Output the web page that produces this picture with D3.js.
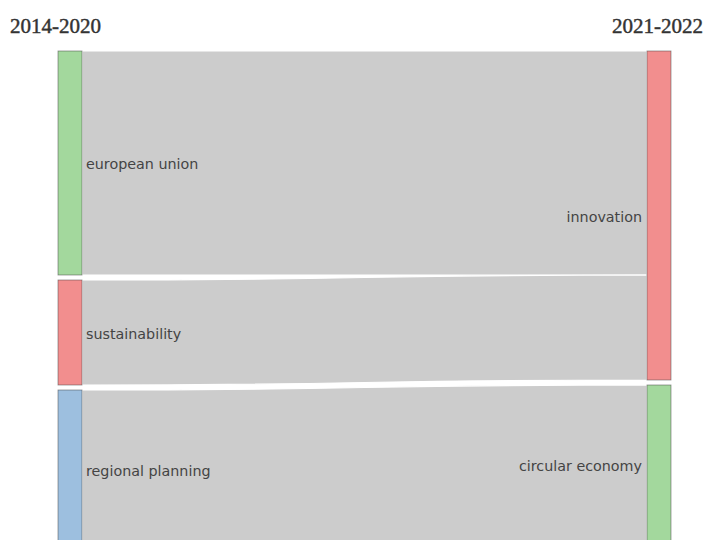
<!DOCTYPE html>
<html>
<head>
<meta charset="utf-8">
<script src="https://cdn.jsdelivr.net/npm/d3@7"></script>
<style>
  body { margin: 0; background: #fff; }
</style>
</head>
<body>
<svg width="706" height="540"></svg>
<script>
// columns (periods) and nodes
let periods = ["2014-2020", "2021-2022"];
let leftNodes = ["european union", "sustainability", "regional planning"];
let leftColors = ["#a3d89d", "#f28e8e", "#9dbfdf"];
let rightNodes = ["innovation", "circular economy"];
let rightColors = ["#f28e8e", "#a3d89d"];

// flows: source -> target, value
let linkSource = ["european union", "sustainability", "regional planning"];
let linkTarget = ["innovation", "innovation", "circular economy"];
let linkValue = [32, 15, 22.6];

let width = 706, height = 540;
let marginTop = 51;
let nodeWidth = 24;
let nodePad = 5;

let svg = d3.select("svg");

let x = d3.scaleLinear().domain([0, 1]).range([58, 647]);
// px per value unit
let total = d3.sum(linkValue);
let y = d3.scaleLinear().domain([0, total]).range([0, total * 7]);

function layout(names, col) {
    let nodes = [];
    let y0 = marginTop;
    names.forEach(function(name, i) {
        let value = 0;
        for (let k = 0; k < linkValue.length; k++) {
            if ((col == 0 ? linkSource[k] : linkTarget[k]) == name) value += linkValue[k];
        }
        let h = y(value);
        nodes.push({name: name, x0: x(col), x1: x(col) + nodeWidth, y0: y0, y1: y0 + h, off: 0});
        y0 += h + nodePad;
    });
    return nodes;
}

let left = layout(leftNodes, 0);
let right = layout(rightNodes, 1);
let byName = {};
left.forEach(d => byName["L" + d.name] = d);
right.forEach(d => byName["R" + d.name] = d);

// links
let links = linkValue.map(function(v, i) {
    let s = byName["L" + linkSource[i]], t = byName["R" + linkTarget[i]];
    let h = y(v);
    let l = {sy0: s.y0 + s.off, ty0: t.y0 + t.off, h: h, x0: s.x1, x1: t.x0};
    s.off += h; t.off += h;
    return l;
});

function linkPath(d) {
    let xm = (d.x0 + d.x1) / 2;
    let p = d3.path();
    p.moveTo(d.x0, d.sy0);
    p.bezierCurveTo(xm, d.sy0, xm, d.ty0, d.x1, d.ty0);
    p.lineTo(d.x1, d.ty0 + d.h);
    p.bezierCurveTo(xm, d.ty0 + d.h, xm, d.sy0 + d.h, d.x0, d.sy0 + d.h);
    p.closePath();
    return p.toString();
}

svg.append("g").selectAll("path").data(links).enter().append("path")
    .attr("d", linkPath)
    .attr("fill", "rgba(0,0,0,0.2)")
    .attr("stroke", "#fff")
    .attr("stroke-width", 1.2);

function drawNodes(nodes, colors, col) {
    let g = svg.append("g");
    g.selectAll("rect").data(nodes).enter().append("rect")
        .attr("x", d => d.x0).attr("y", d => d.y0)
        .attr("width", nodeWidth).attr("height", d => d.y1 - d.y0)
        .attr("fill", (d, i) => colors[i])
        .attr("stroke", "rgba(68,68,68,0.6)")
        .attr("stroke-width", 0.8);
    g.selectAll("text").data(nodes).enter().append("text")
        .attr("x", d => col == 0 ? d.x1 + 4 : d.x0 - 5)
        .attr("y", d => (d.y0 + d.y1) / 2)
        .attr("dy", "0.45em")
        .attr("text-anchor", col == 0 ? "start" : "end")
        .attr("font-family", "'DejaVu Sans', Verdana, sans-serif")
        .attr("font-size", 14.3)
        .attr("fill", "#444")
        .text(d => d.name);
}
drawNodes(left, leftColors, 0);
drawNodes(right, rightColors, 1);

// period titles
svg.selectAll(".title").data(periods).enter().append("text")
    .attr("class", "title")
    .attr("x", (d, i) => i == 0 ? 10 : 703)
    .attr("y", 33)
    .attr("text-anchor", (d, i) => i == 0 ? "start" : "end")
    .attr("font-family", "'Liberation Serif', 'Times New Roman', serif")
    .attr("font-size", 21)
    .attr("fill", "#333")
    .attr("stroke", "#333")
    .attr("stroke-width", 0.45)
    .text(d => d);
</script>
</body>
</html>
